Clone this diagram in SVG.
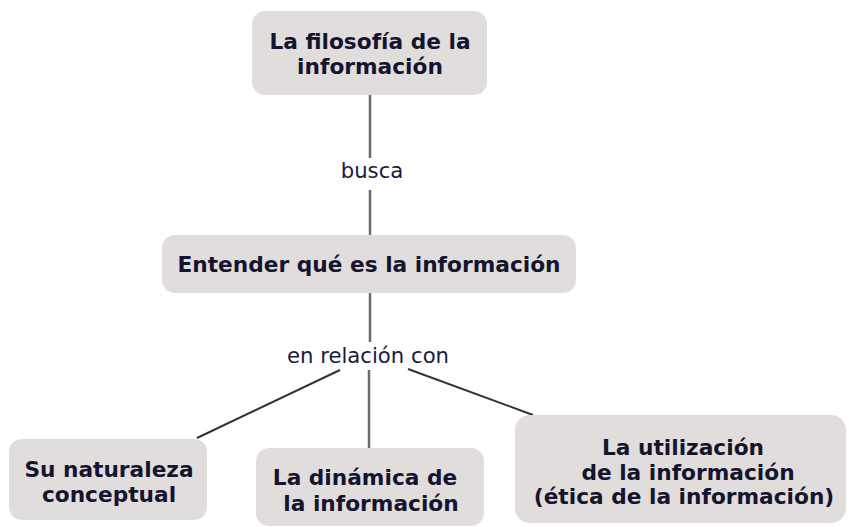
<svg xmlns="http://www.w3.org/2000/svg" width="849" height="527" viewBox="0 0 849 527">
<style>
.box{fill:#e1dddc;}
.t{font-family:"DejaVu Sans",Verdana,sans-serif;font-weight:bold;font-size:21.7px;fill:#14142e;text-anchor:middle;}
.lbl{font-family:"DejaVu Sans",Verdana,sans-serif;font-size:21.2px;fill:#1a1a3a;text-anchor:middle;}
.c{stroke:#6a6a6a;stroke-width:2.5;fill:none;}
.d{stroke:#333;stroke-width:2;fill:none;}
</style>
<rect width="849" height="527" fill="#fff"/>
<g id="connectors">
<line class="c" x1="370" y1="95" x2="370" y2="158"/>
<line class="c" x1="370" y1="190" x2="370" y2="235"/>
<line class="c" x1="370" y1="293" x2="370" y2="342"/>
<line class="c" x1="369" y1="370" x2="369" y2="448"/>
<line class="d" x1="340" y1="370" x2="197" y2="438"/>
<line class="d" x1="408" y1="369" x2="533" y2="415"/>
<text class="lbl" x="372" y="178">busca</text>
<text class="lbl" x="368" y="363">en relación con</text>
</g>
<g id="n1">
<rect class="box" x="252" y="11" width="235" height="84" rx="13"/>
<text class="t" x="370" y="49">La filosofía de la</text>
<text class="t" x="370" y="74">información</text>
</g>
<g id="n2">
<rect class="box" x="162" y="235" width="414" height="58" rx="13"/>
<text class="t" x="369" y="272">Entender qué es la información</text>
</g>
<g id="n3">
<rect class="box" x="9" y="439" width="198" height="81" rx="13"/>
<text class="t" x="109" y="477">Su naturaleza</text>
<text class="t" x="109" y="502">conceptual</text>
</g>
<g id="n4">
<rect class="box" x="256" y="448" width="228" height="78" rx="13"/>
<text class="t" x="365" y="485">La dinámica de</text>
<text class="t" x="371" y="511">la información</text>
</g>
<g id="n5">
<rect class="box" x="515" y="415" width="331" height="108" rx="15"/>
<text class="t" x="683" y="455">La utilización</text>
<text class="t" x="688" y="480">de la información</text>
<text class="t" x="684" y="504">(ética de la información)</text>
</g>
</svg>
